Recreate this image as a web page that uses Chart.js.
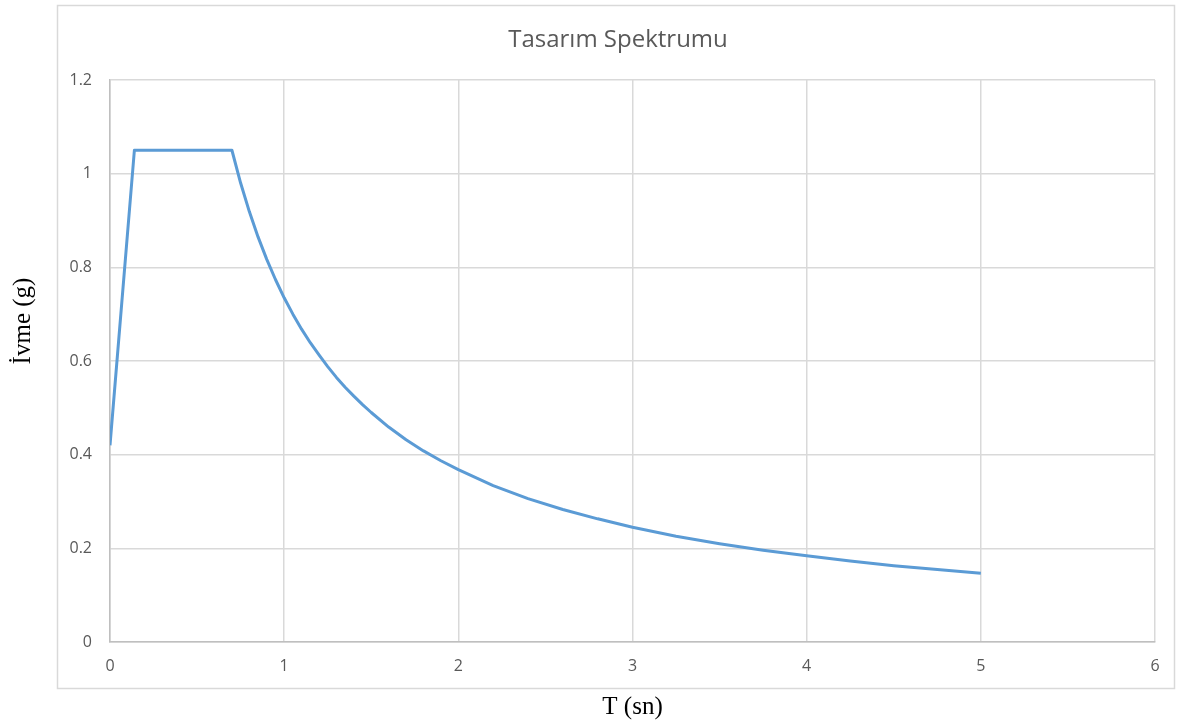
<!DOCTYPE html>
<html>
<head>
<meta charset="utf-8">
<script src="https://cdn.jsdelivr.net/npm/chart.js@4"></script>
<style>
  html, body { margin: 0; padding: 0; background: #fff; }
  #wrap { width: 1178px; height: 724px; }
</style>
</head>
<body>
<div id="wrap"><canvas id="spectrum-chart" width="1178" height="724"></canvas></div>
<script>
// periyot (sn) ve spektral ivme (g)
const periods = [0, 0.14, 0.7, 0.75, 0.8, 0.85, 0.9, 0.95, 1.0, 1.05, 1.1, 1.15, 1.2, 1.25, 1.3, 1.35, 1.4, 1.45, 1.5,
  1.6, 1.7, 1.8, 1.9, 2.0, 2.2, 2.4, 2.6, 2.8, 3.0, 3.25, 3.5, 3.75, 4.0, 4.25, 4.5, 4.75, 5.0];
const accelerations = [0.42, 1.05, 1.05, 0.98, 0.919, 0.865, 0.817, 0.774, 0.735, 0.7, 0.668, 0.639, 0.613, 0.588, 0.565, 0.544, 0.525, 0.507, 0.49,
  0.459, 0.432, 0.408, 0.387, 0.368, 0.334, 0.306, 0.283, 0.263, 0.245, 0.226, 0.21, 0.196, 0.184, 0.173, 0.163, 0.155, 0.147];
const xTicks = [0, 1, 2, 3, 4, 5, 6];
const yTicks = [0, 0.2, 0.4, 0.6, 0.8, 1, 1.2];

const chartTitle = 'Tasarım Spektrumu';
const xTitle = 'T (sn)';
const yTitle = 'İvme (g)';

// cerceve, baslik ve dikey eksen basligi
const frameAndTitles = {
  id: 'frameAndTitles',
  beforeDraw: (chart) => {
    const ctx = chart.ctx;
    ctx.save();
    ctx.strokeStyle = '#d9d9d9';
    ctx.lineWidth = 1.5;
    ctx.strokeRect(57.5, 5.5, 1117, 683);
    ctx.restore();
  },
  afterDraw: (chart) => {
    const ctx = chart.ctx;
    ctx.save();
    ctx.fillStyle = '#595959';
    ctx.font = '24px "Open Sans"';
    ctx.textAlign = 'center';
    ctx.textBaseline = 'middle';
    ctx.fillText(chartTitle, 618, 40);

    ctx.translate(23, 321);
    ctx.rotate(-Math.PI / 2);
    ctx.fillStyle = '#000';
    ctx.font = '25px "Liberation Serif"';
    ctx.fillText(yTitle, 0, 0);
    ctx.restore();
  }
};

const points = periods.map((t, i) => ({ x: t, y: accelerations[i] }));

new Chart(document.getElementById('spectrum-chart'), {
  type: 'line',
  data: {
    datasets: [{
      label: 'Spektrum',
      data: points,
      borderColor: '#5b9bd5',
      borderWidth: 3,
      pointRadius: 0,
      fill: false,
      tension: 0,
      borderJoinStyle: 'round'
    }]
  },
  options: {
    responsive: false,
    animation: false,
    layout: { padding: { left: 0, right: 23, top: 80, bottom: 0 } },
    plugins: {
      legend: { display: false },
      tooltip: { enabled: false },
      title: { display: false }
    },
    scales: {
      x: {
        type: 'linear',
        min: 0,
        max: 6,
        afterBuildTicks: (scale) => { scale.ticks = xTicks.map(v => ({ value: v })); },
        afterFit: (scale) => { scale.height = 82; },
        grid: { color: '#d9d9d9', lineWidth: 1.5, drawTicks: false },
        border: { color: '#bfbfbf', width: 1.5 },
        ticks: { color: '#595959', padding: 15, font: { family: 'Open Sans', size: 16 } },
        title: {
          display: true,
          text: xTitle,
          color: '#000',
          font: { family: 'Liberation Serif', size: 25 },
          padding: { top: 0, bottom: 2 }
        }
      },
      y: {
        min: 0,
        max: 1.2,
        afterBuildTicks: (scale) => { scale.ticks = yTicks.map(v => ({ value: v })); },
        afterFit: (scale) => { scale.width = 110; },
        grid: { color: '#d9d9d9', lineWidth: 1.5, drawTicks: false },
        border: { color: '#bfbfbf', width: 1.5 },
        ticks: {
          color: '#595959',
          padding: 18,
          font: { family: 'Open Sans', size: 16 },
          callback: (value) => String(value)
        }
      }
    }
  },
  plugins: [frameAndTitles]
});
</script>
</body>
</html>
